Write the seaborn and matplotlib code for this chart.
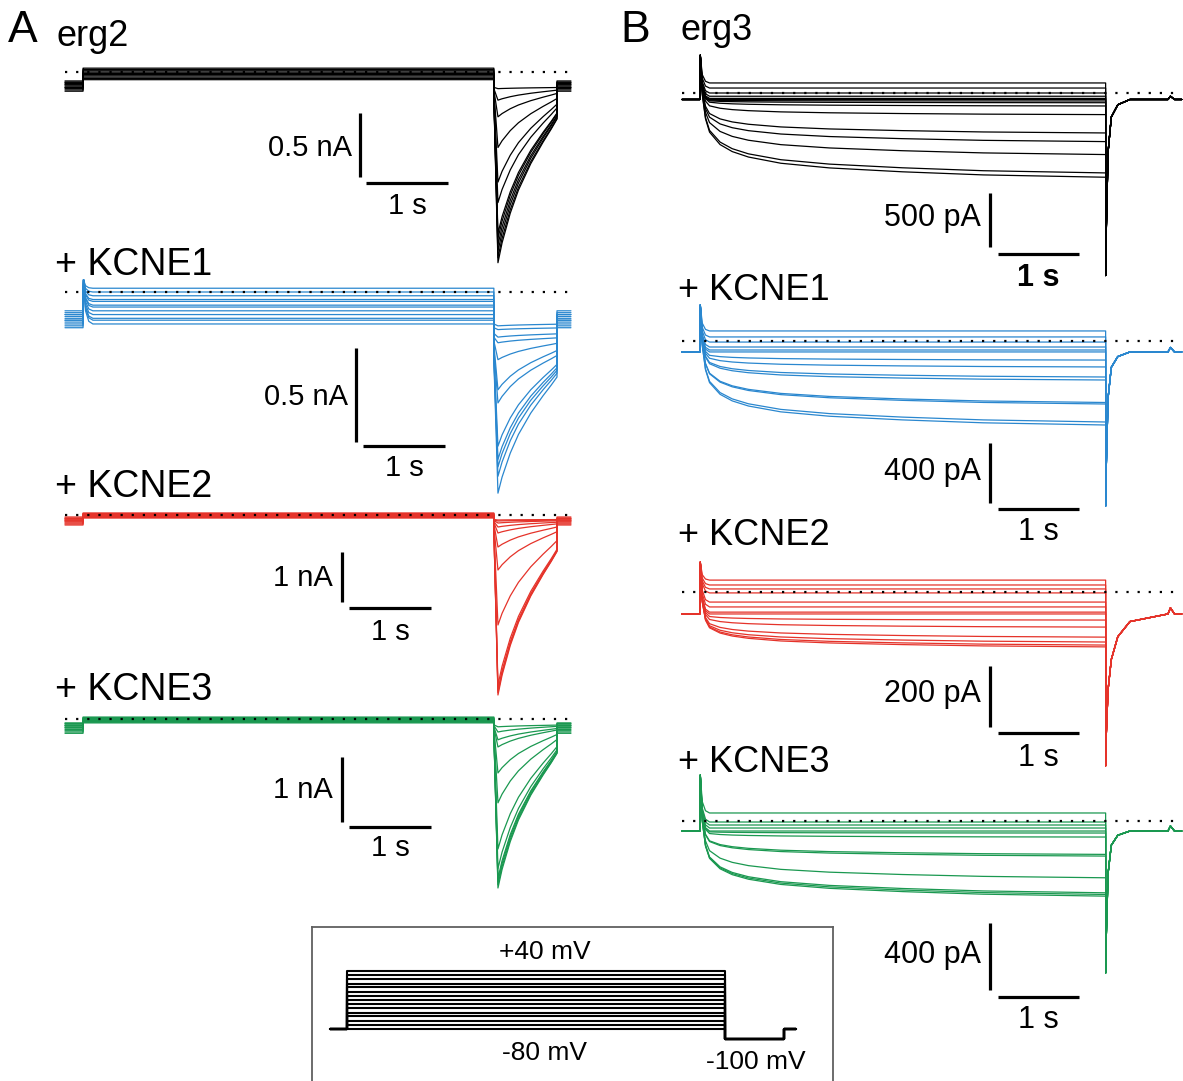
import numpy as np
import pandas as pd
import matplotlib
matplotlib.use("Agg")
import matplotlib.pyplot as plt
import seaborn as sns

# ---- protocol (s): holding -80 mV, 5 s step, -100 mV tail, back to -80 mV
t_on, t_off, t_tail, t_stop = 0.22, 5.23, 6.0, 6.17
step_mV = [40, 31, 23, 14, 6, -3, -11, -20, -29, -37, -46, -54, -63, -71, -80]

# shape knots (time after step onset / step end)
onset_dt = [0, 0.006, 0.03, 0.07, 0.12, 0.25, 0.4, 0.6, 1.0, 1.6, 2.5, 3.5, 5.01]
act_frac = [0, 0.03, 0.15, 0.3, 0.42, 0.58, 0.67, 0.74, 0.82, 0.88, 0.93, 0.97, 1.0]
spike_frac = [0, 1, 0.3, 0.06, 0, 0, 0, 0, 0, 0, 0, 0, 0]
tail_dt_a = [0, 0.05, 0.1, 0.2, 0.3, 0.45, 0.6, 0.7, 0.77]
tail_frac_a = [0, 1, 0.88, 0.7, 0.56, 0.4, 0.27, 0.19, 0.13]
tail_dt_b = [0, 0.008, 0.03, 0.07, 0.15, 0.3, 0.77]
tail_frac_b = [1, 0.75, 0.3, 0.1, 0.03, 0, 0]
tail_frac_b_slow = [1, 0.8, 0.5, 0.3, 0.15, 0.05, 0]
post_dt = [0, 0.03, 0.08, 0.17]
bump_frac = [0, 1, 0, 0]

# ---- A: erg2 (nA)
erg2_hold = [-0.07, -0.08, -0.09, -0.10, -0.11, -0.12, -0.13, -0.14, -0.15, -0.12, -0.10, -0.08]
erg2_step = [0.03, 0.02, 0.01, 0.0, -0.01, -0.01, -0.02, -0.02, -0.03, -0.04, -0.05, -0.06]
erg2_tail_peak = [-1.49, -1.45, -1.40, -1.35, -1.30, -1.26, -1.02, -0.86, -0.59, -0.35, -0.22, -0.13]
erg2_tail_base = [-0.20, -0.20, -0.19, -0.19, -0.18, -0.18, -0.17, -0.16, -0.15, -0.14, -0.13, -0.12]

k1a_hold = [-0.10, -0.11, -0.12, -0.13, -0.14, -0.15, -0.16, -0.17, -0.18, -0.19, -0.12, -0.15]
k1a_step = [0.02, 0.0, -0.02, -0.04, -0.05, -0.07, -0.08, -0.10, -0.12, -0.14, -0.15, -0.17]
k1a_tail_peak = [-1.07, -0.98, -0.93, -0.89, -0.82, -0.59, -0.52, -0.36, -0.27, -0.24, -0.20, -0.18]
k1a_tail_base = [-0.36, -0.35, -0.34, -0.33, -0.32, -0.30, -0.28, -0.26, -0.24, -0.22, -0.19, -0.17]
k1a_spike = 0.065

k2a_hold = [-0.04, -0.06, -0.08, -0.10, -0.12, -0.14, -0.16, -0.18, -0.20, -0.10, -0.07, -0.12]
k2a_step = [0.04, 0.03, 0.02, 0.01, 0.0, -0.01, -0.02, -0.03, -0.04, -0.05, -0.06, -0.03]
k2a_tail_peak = [-3.6, -3.55, -3.5, -3.4, -2.2, -1.1, -0.64, -0.36, -0.24, -0.16, -0.12, -0.10]
k2a_tail_base = [-0.30, -0.30, -0.29, -0.28, -0.26, -0.22, -0.18, -0.15, -0.13, -0.11, -0.10, -0.09]

k3a_hold = [-0.06, -0.08, -0.10, -0.12, -0.14, -0.16, -0.18, -0.20, -0.22, -0.10, -0.07, -0.13]
k3a_step = [0.03, 0.02, 0.01, 0.0, -0.01, -0.02, -0.03, -0.04, -0.05, -0.06, -0.02, 0.0]
k3a_tail_peak = [-2.6, -2.55, -2.5, -2.45, -2.3, -2.0, -1.29, -0.83, -0.43, -0.32, -0.20, -0.12]
k3a_tail_base = [-0.22, -0.22, -0.21, -0.21, -0.20, -0.19, -0.17, -0.15, -0.13, -0.12, -0.10, -0.09]

# ---- B: erg3 (nA)
erg3_hold = -0.06
erg3_end = [0.093, 0.046, 0.0, -0.03, -0.05, -0.06, -0.074, -0.09, -0.12, -0.2, -0.37, -0.45, -0.57, -0.74, -0.78]
erg3_spike, erg3_tail, erg3_bump = 0.35, -1.69, 0.03

k1b_hold = -0.073
k1b_end = [0.067, 0.027, -0.007, -0.04, -0.06, -0.073, -0.127, -0.173, -0.24, -0.26, -0.41, -0.42, -0.54, -0.56]
k1b_spike, k1b_tail, k1b_bump = 0.24, -1.1, 0.03

k2b_hold = -0.072
k2b_end = [0.039, 0.023, 0.01, -0.003, -0.033, -0.049, -0.066, -0.072, -0.092, -0.115, -0.148, -0.164, -0.174, -0.18]
k2b_spike, k2b_tail, k2b_bump = 0.098, -0.57, 0.02

k3b_hold = -0.06
k3b_end = [0.048, -0.006, -0.024, -0.042, -0.06, -0.072, -0.096, -0.2, -0.21, -0.34, -0.43, -0.44, -0.45]
k3b_spike, k3b_tail, k3b_bump = 0.275, -0.91, 0.03


def build(hold, start, end, spike, tail_dt, tail_frac, base, peak, bump=0.0):
    n = len(end)
    hold = np.broadcast_to(np.asarray(hold, float), n)
    base = np.broadcast_to(np.asarray(base, float), n)
    peak = np.broadcast_to(np.asarray(peak, float), n)
    frames = []
    for i in range(n):
        t = [0, t_on]
        v = [hold[i], hold[i]]
        for dt, a, s in zip(onset_dt, act_frac, spike_frac):
            lvl = start[i] + (end[i] - start[i]) * a
            t.append(t_on + dt)
            v.append(lvl if spike is None else lvl + (spike - lvl) * s)
        for dt, f in zip(tail_dt, tail_frac):
            t.append(t_off + dt)
            v.append(base[i] + (peak[i] - base[i]) * f)
        for dt, b in zip(post_dt, bump_frac):
            t.append(t_tail + dt)
            v.append(hold[i] + bump * b)
        frames.append(pd.DataFrame({"t": t, "I": v, "trace": i}))
    return pd.concat(frames, ignore_index=True)


def b_start(end, hold):
    return np.maximum(np.asarray(end), hold)


sns.set_style("white")
plt.rcParams["font.family"] = ["Liberation Sans", "DejaVu Sans"]
plt.rcParams["text.color"] = "black"

W, H = 1183, 1081
fig = plt.figure(figsize=(W / 100, H / 100), dpi=100)

blue, red, green = "#2a87cf", "#e5332a", "#1a9850"

panels = [
    # df, color, x0, y0, px/s, px/nA, scalebar (vx, vtop, hy, hx0, lab_x, lab_y, s_y, amp, text, fs), bold s
    (build(erg2_hold, erg2_step, erg2_step, None, tail_dt_a, tail_frac_a, erg2_tail_base, erg2_tail_peak),
     "black", 65, 72, 82, 128, (360, 113, 183, 366, 352, 148, 206, 0.5, "0.5 nA", 21), False),
    (build(k1a_hold, k1a_step, k1a_step, k1a_spike, tail_dt_a, tail_frac_a, k1a_tail_base, k1a_tail_peak),
     blue, 65, 292, 82, 188, (356, 348, 446, 363, 348, 397, 468, 0.5, "0.5 nA", 21), False),
    (build(k2a_hold, k2a_step, k2a_step, None, tail_dt_a, tail_frac_a, k2a_tail_base, k2a_tail_peak),
     red, 65, 515, 82, 50, (342, 552, 608, 349, 333, 578, 632, 1.0, "1 nA", 21), False),
    (build(k3a_hold, k3a_step, k3a_step, None, tail_dt_a, tail_frac_a, k3a_tail_base, k3a_tail_peak),
     green, 65, 719, 82, 65, (342, 757, 827, 349, 333, 790, 848, 1.0, "1 nA", 21), False),
    (build(erg3_hold, b_start(erg3_end, erg3_hold), erg3_end, erg3_spike, tail_dt_b, tail_frac_b,
           erg3_hold, erg3_tail, erg3_bump),
     "black", 682, 93, 81, 108, (990, 193, 254, 998, 981, 218, 278, 0.5, "500 pA", 22), True),
    (build(k1b_hold, b_start(k1b_end, k1b_hold), k1b_end, k1b_spike, tail_dt_b, tail_frac_b,
           k1b_hold, k1b_tail, k1b_bump),
     blue, 682, 341, 81, 150, (990, 443, 509, 998, 981, 472, 532, 0.4, "400 pA", 22), False),
    (build(k2b_hold, b_start(k2b_end, k2b_hold), k2b_end, k2b_spike, tail_dt_b, tail_frac_b_slow,
           k2b_hold, k2b_tail, k2b_bump),
     red, 682, 592, 81, 305, (990, 666, 733, 998, 981, 694, 758, 0.2, "200 pA", 22), False),
    (build(k3b_hold, b_start(k3b_end, k3b_hold), k3b_end, k3b_spike, tail_dt_b, tail_frac_b,
           k3b_hold, k3b_tail, k3b_bump),
     green, 682, 821, 81, 167, (990, 923, 997, 998, 981, 955, 1020, 0.4, "400 pA", 22), False),
]

for df, color, x0, y0, pxs, pxa, sb, bold in panels:
    ax = fig.add_axes([0, 0, 1, 1])
    ax.set_xlim(-x0 / pxs, (W - x0) / pxs)
    ax.set_ylim((y0 - H) / pxa, y0 / pxa)
    ax.axis("off")
    ax.patch.set_alpha(0)
    sns.lineplot(data=df, x="t", y="I", units="trace", estimator=None, sort=False,
                 color=color, lw=0.9, legend=False, ax=ax)
    ax.plot([0, t_stop], [0, 0], color="black", lw=1.6, ls=(0, (1, 4)), zorder=5)

    vx, vtop, hy, hx0, lab_x, lab_y, s_y, amp, text, fs = sb
    tx = lambda px: (px - x0) / pxs
    iy = lambda py: (y0 - py) / pxa
    ax.plot([tx(vx)] * 2, [iy(vtop), iy(vtop) - amp], color="black", lw=2.3,
            solid_capstyle="butt")
    ax.plot([tx(hx0), tx(hx0) + 1.0], [iy(hy)] * 2, color="black", lw=2.3,
            solid_capstyle="butt")
    ax.text(tx(lab_x), iy(lab_y), text, ha="right", va="center", fontsize=fs)
    ax.text(tx(hx0) + 0.5, iy(s_y), "1 s", ha="center", va="center", fontsize=fs,
            fontweight="bold" if bold else "normal")

# panel labels
labels = [("A", 8, 30, 32), ("erg2", 57, 37, 26), ("+ KCNE1", 55, 265, 27),
          ("+ KCNE2", 55, 487, 27), ("+ KCNE3", 55, 690, 27),
          ("B", 620, 30, 32), ("erg3", 680, 30, 26), ("+ KCNE1", 678, 290, 26),
          ("+ KCNE2", 678, 535, 26), ("+ KCNE3", 678, 762, 26)]
for txt, px, py, fs in labels:
    fig.text(px / W, 1 - py / H, txt, ha="left", va="center", fontsize=fs)

# voltage protocol inset
ins = fig.add_axes([312 / W, 0, (833 - 312) / W, (1081 - 927) / H])
ix0, ipxs, iy0, ipxv = 330, 75.6, 1029, 0.483
ins.set_xlim((312 - ix0) / ipxs, (833 - ix0) / ipxs)
ins.set_ylim(-80 - (1081 - iy0) / ipxv, -80 + (iy0 - 927) / ipxv)
ins.set_xticks([])
ins.set_yticks([])
for side in ["top", "left", "right"]:
    ins.spines[side].set_color("#606060")
    ins.spines[side].set_linewidth(1.3)
ins.spines["bottom"].set_visible(False)

proto = pd.concat([
    pd.DataFrame({"t": [0, t_on, t_on, t_off, t_off, t_tail, t_tail, t_stop],
                  "V": [-80, -80, lvl, lvl, -100, -100, -80, -80], "step": k})
    for k, lvl in enumerate(step_mV)], ignore_index=True)
sns.lineplot(data=proto, x="t", y="V", units="step", estimator=None, sort=False,
             color="black", lw=1.5, legend=False, ax=ins)
ins.set_xlabel("")
ins.set_ylabel("")
ins.text((545 - ix0) / ipxs, -80 + (iy0 - 952) / ipxv, "+40 mV", ha="center", va="center", fontsize=19)
ins.text((545 - ix0) / ipxs, -80 + (iy0 - 1053) / ipxv, "-80 mV", ha="center", va="center", fontsize=19)
ins.text((756 - ix0) / ipxs, -80 + (iy0 - 1062) / ipxv, "-100 mV", ha="center", va="center", fontsize=19)

fig.savefig("out.png", dpi=100)
